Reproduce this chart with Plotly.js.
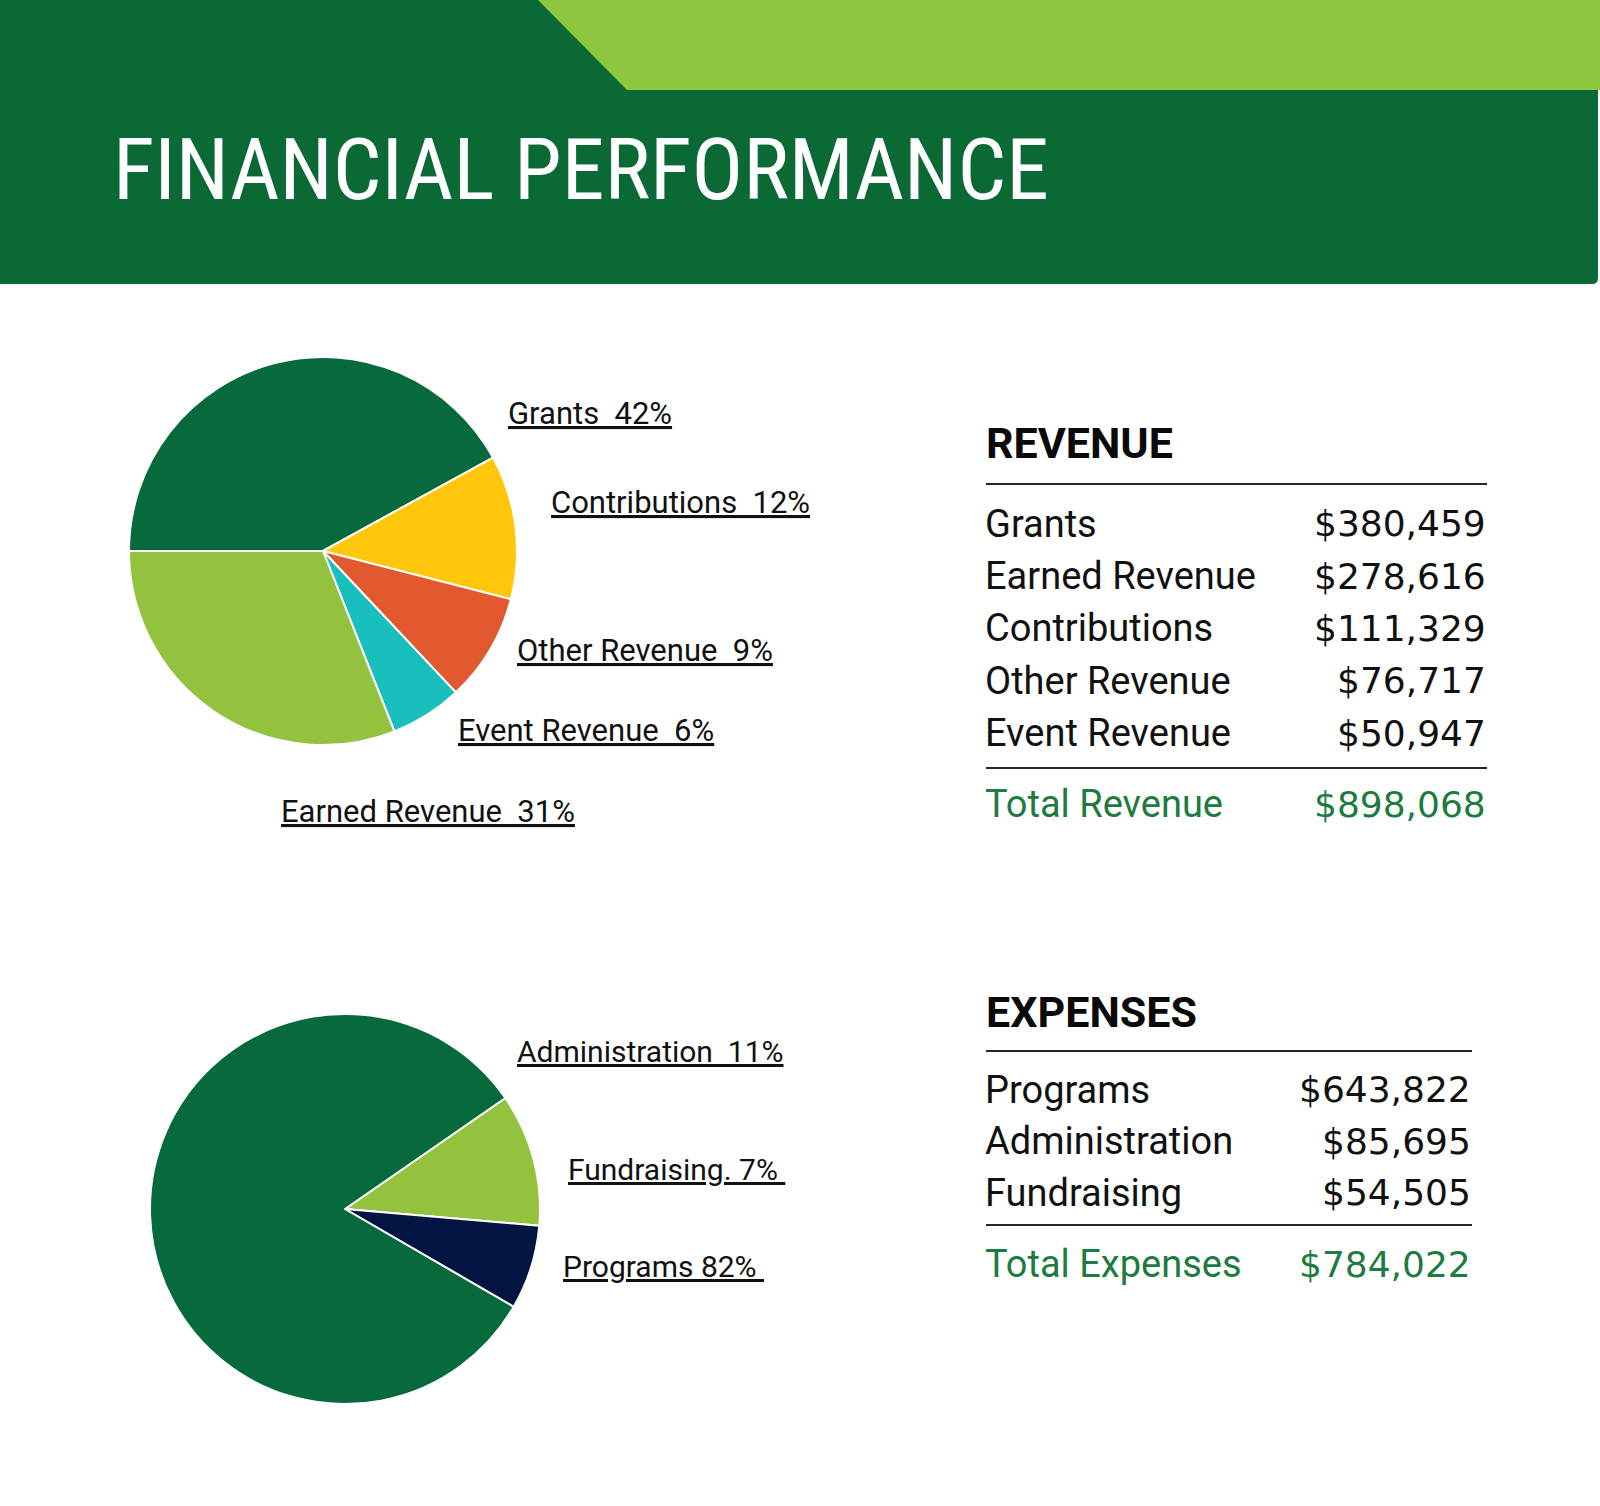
<!DOCTYPE html>
<html><head><meta charset="utf-8">
<script src="https://cdn.plot.ly/plotly-3.0.1.min.js"></script>
<style>html,body{margin:0;padding:0;background:#fff;overflow:hidden}#chart{width:1600px;height:1506px}</style>
</head><body><div id="chart"></div>
<script>
// ---------------- data ----------------
const pageTitle = "FINANCIAL PERFORMANCE";

const revenueCategories = ["Grants", "Earned Revenue", "Contributions", "Other Revenue", "Event Revenue"];
const revenueAmounts = [380459, 278616, 111329, 76717, 50947];
const revenueTotal = 898068;

const revenuePieCategories = ["Grants", "Contributions", "Other Revenue", "Event Revenue", "Earned Revenue"];
const revenuePiePercents = [42, 12, 9, 6, 31];

const expenseCategories = ["Programs", "Administration", "Fundraising"];
const expenseAmounts = [643822, 85695, 54505];
const expenseTotal = 784022;

const expensePieCategories = ["Administration", "Fundraising", "Programs"];
const expensePiePercents = [11, 7, 82];
const expensePieLabelTexts = ["Administration  11%", "Fundraising. 7% ", "Programs 82% "];

// ---------------- styles ----------------
const W = 1600, H = 1506;
const revenuePieColors = ["#066a3c", "#ffc60c", "#e2592f", "#19bfbd", "#93c23f"];
const expensePieColors = ["#93c23f", "#021442", "#066a3c"];
const headerDark = "#0b6936", headerLight = "#8dc63f";
const totalGreen = "#1d7a40";
const textDark = "#111111";
const labelFont = "Roboto, 'Open Sans', sans-serif";
const tableFont = "Roboto, 'Open Sans', sans-serif";
const valueFont = "'DejaVu Sans', Roboto, sans-serif";
const titleFont = "'Liberation Sans Narrow', 'Roboto Condensed', 'Arial Narrow', Roboto, sans-serif";

const px = x => x / W;
const py = y => 1 - y / H;
const P = (x, y) => px(x) + "," + py(y);
const money = n => "$" + n.toLocaleString("en-US");
const nb = s => s.replace(/ /g, "\u00a0");

// ---------------- traces ----------------
const traces = [
  {
    type: "pie", labels: revenuePieCategories, values: revenuePiePercents,
    sort: false, direction: "clockwise", rotation: -90,
    marker: {colors: revenuePieColors, line: {color: "#ffffff", width: 2}},
    textinfo: "none", hoverinfo: "skip", showlegend: false,
    domain: {x: [px(129), px(517)], y: [py(745), py(357)]}
  },
  {
    type: "pie", labels: expensePieCategories, values: expensePiePercents,
    sort: false, direction: "clockwise", rotation: 55.3,
    marker: {colors: expensePieColors, line: {color: "#ffffff", width: 2}},
    textinfo: "none", hoverinfo: "skip", showlegend: false,
    domain: {x: [px(150), px(540)], y: [py(1404), py(1014)]}
  }
];

// ---------------- annotations ----------------
const ann = [];
function txt(text, x, y, opts) {
  ann.push(Object.assign({
    text: text, x: px(x), y: py(y), xref: "paper", yref: "paper",
    xanchor: "left", yanchor: "middle", showarrow: false, borderpad: 0,
    font: {family: tableFont, size: 38, color: textDark}
  }, opts || {}));
}

// title
txt(pageTitle, 112, 169, {font: {family: titleFont, size: 86, color: "#ffffff"}});

// revenue pie labels
const revLabelPos = {
  "Grants": [507, 414], "Contributions": [550, 503], "Other Revenue": [516, 650],
  "Event Revenue": [457, 730], "Earned Revenue": [280, 811.5]
};
revenuePieCategories.forEach((c, i) => {
  const p = revLabelPos[c];
  txt("<u>" + nb(c + "  " + revenuePiePercents[i] + "%") + "</u>", p[0], p[1],
      {font: {family: labelFont, size: 31, color: textDark}});
});

// expense pie labels
const expLabelPos = [[516, 1051], [567, 1169], [562, 1266]];
expensePieLabelTexts.forEach((t, i) => {
  txt("<u>" + nb(t) + "</u>", expLabelPos[i][0], expLabelPos[i][1],
      {font: {family: labelFont, size: 30, color: textDark}});
});

// revenue table
const tLeft = 984;
const valFont = c => ({family: valueFont, size: 36, color: c});
txt("REVENUE", tLeft + 1, 443.5, {font: {family: tableFont, size: 43, color: "#0a0a0a", weight: 700}});
revenueCategories.forEach((c, i) => {
  const y = 523.6 + i * 52.4;
  txt(c, tLeft, y);
  txt(money(revenueAmounts[i]), 1487, y, {xanchor: "right", font: valFont(textDark)});
});
txt("Total Revenue", tLeft, 804, {font: {family: tableFont, size: 38, color: totalGreen}});
txt(money(revenueTotal), 1487, 804, {xanchor: "right", font: valFont(totalGreen)});

// expense table
txt("EXPENSES", tLeft + 1, 1012.4, {font: {family: tableFont, size: 43, color: "#0a0a0a", weight: 700}});
expenseCategories.forEach((c, i) => {
  const y = 1089.5 + i * 51.7;
  txt(c, tLeft, y);
  txt(money(expenseAmounts[i]), 1472, y, {xanchor: "right", font: valFont(textDark)});
});
txt("Total Expenses", tLeft, 1264, {font: {family: tableFont, size: 38, color: totalGreen}});
txt(money(expenseTotal), 1472, 1264, {xanchor: "right", font: valFont(totalGreen)});

// ---------------- shapes ----------------
const shapes = [
  {type: "path", xref: "paper", yref: "paper", layer: "below",
   path: "M" + P(0, 0) + " L" + P(1598, 0) + " L" + P(1598, 278) + " Q" + P(1598, 284) + " " + P(1592, 284) + " L" + P(0, 284) + " Z",
   fillcolor: headerDark, line: {width: 0}},
  {type: "path", xref: "paper", yref: "paper", layer: "below",
   path: "M" + P(538, 0) + " L" + P(1600, 0) + " L" + P(1600, 90) + " L" + P(627, 90) + " Z",
   fillcolor: headerLight, line: {width: 0}}
];
function hline(y, x0, x1) {
  shapes.push({type: "line", xref: "paper", yref: "paper", x0: px(x0), x1: px(x1), y0: py(y), y1: py(y),
               line: {color: "#1f2a24", width: 2}});
}
hline(484, 986, 1487); hline(768, 986, 1487);
hline(1051, 986, 1472); hline(1225, 986, 1472);

const layout = {
  width: W, height: H, margin: {l: 0, r: 0, t: 0, b: 0},
  paper_bgcolor: "#ffffff", plot_bgcolor: "#ffffff",
  showlegend: false, annotations: ann, shapes: shapes
};
Plotly.newPlot("chart", traces, layout, {displayModeBar: false, staticPlot: true});
</script>
</body></html>
